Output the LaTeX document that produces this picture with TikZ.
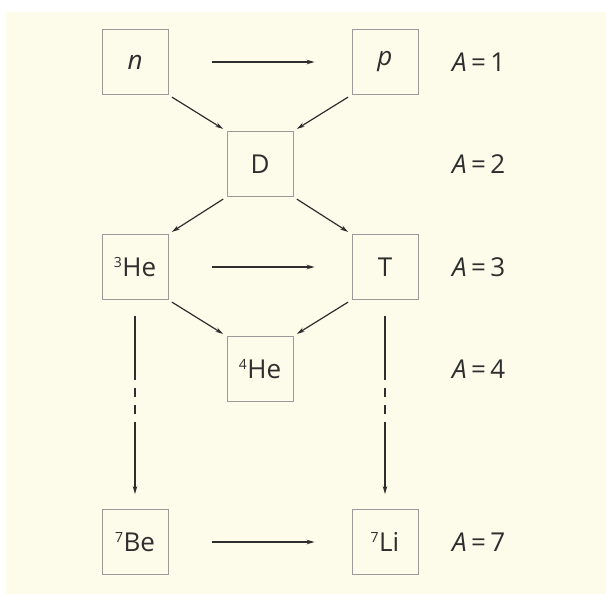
\documentclass[tikz,border=0pt]{standalone}
\usepackage{fontspec}
\setmainfont{Open Sans}
\usetikzlibrary{arrows.meta}
\definecolor{cream}{HTML}{FDFBEA}
\definecolor{boxgray}{HTML}{9A9A9A}
\definecolor{ink}{HTML}{2E2E2E}
\newcommand{\iso}[2]{\raisebox{9pt}{\fontsize{14}{14}\selectfont #1}\kern0.5pt #2}
\begin{document}
\begin{tikzpicture}[x=1pt,y=-1pt,
  nuc/.style={draw=boxgray, line width=0.9pt, minimum width=66pt, minimum height=65pt,
    inner sep=0pt, text=ink, font=\fontsize{26}{30}\selectfont},
  lbl/.style={anchor=west, inner sep=0pt, text=ink, font=\fontsize{26}{30}\selectfont},
  arr/.style={draw=ink, line width=1.2pt, -{Stealth[length=8pt,width=4.5pt]}},
  diag/.style={arr, shorten <=4pt, shorten >=4pt},
  vdash/.style={arr, dash pattern=on 64pt off 8pt on 9pt off 8pt on 9pt off 8pt on 300pt}
]
\useasboundingbox (0,0) rectangle (606,594);
\fill[white] (0,0) rectangle (606,594);
\fill[cream] (6,12) rectangle (606,594);

\node[nuc] (n)   at (135,62)  {\itshape n};
\node[nuc] (p)   at (385,62)  {\itshape p};
\node[nuc] (D)   at (260,164) {D};
\node[nuc] (he3) at (135,267) {\iso{3}{He}};
\node[nuc] (T)   at (385,267) {T};
\node[nuc] (he4) at (260,369) {\iso{4}{He}};
\node[nuc] (be7) at (135,542) {\iso{7}{Be}};
\node[nuc] (li7) at (385,542) {\iso{7}{Li}};

\node[lbl] (a1) at (452,62)  {{\itshape A}\,=\,1};
\node[lbl] (a2) at (452,164) {{\itshape A}\,=\,2};
\node[lbl] (a3) at (452,267) {{\itshape A}\,=\,3};
\node[lbl] (a4) at (452,369) {{\itshape A}\,=\,4};
\node[lbl] (a7) at (452,542) {{\itshape A}\,=\,7};

\draw[arr] ([xshift=44pt]n.east) -- ([xshift=-37pt]p.west);
\draw[arr] ([xshift=44pt]he3.east) -- ([xshift=-37pt]T.west);
\draw[arr] ([xshift=44pt]be7.east) -- ([xshift=-37pt]li7.west);

\draw[diag] (n.south east) -- (D.north west);
\draw[diag] (p.south west) -- (D.north east);
\draw[diag] (D.south west) -- (he3.north east);
\draw[diag] (D.south east) -- (T.north west);
\draw[diag] (he3.south east) -- (he4.north west);
\draw[diag] (T.south west) -- (he4.north east);

\draw[vdash] ([yshift=-16pt]he3.south) -- ([yshift=15pt]be7.north);
\draw[vdash] ([yshift=-16pt]T.south) -- ([yshift=15pt]li7.north);
\end{tikzpicture}
\end{document}
